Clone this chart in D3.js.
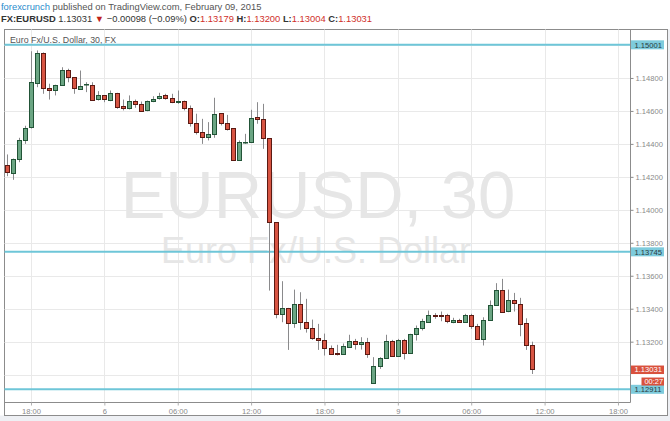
<!DOCTYPE html>
<html><head><meta charset="utf-8">
<script src="https://cdn.jsdelivr.net/npm/d3@7"></script>
<style>
html,body{margin:0;padding:0;background:#fff;}
svg{display:block;font-family:"Liberation Sans",Arial,sans-serif;}
</style></head>
<body>
<svg id="c" width="670" height="421"></svg>
<script>
// ---- data (EUR/USD, 30-minute candles) ----
const open = [
1.14269,1.14222,1.14309,1.14425,1.14498,1.14774,1.14953,1.14738,1.14728,1.14759,
1.14850,1.14805,1.14738,1.14760,1.14760,1.14668,1.14694,1.14668,1.14710,1.14627,
1.14619,1.14661,1.14643,1.14603,1.14659,1.14674,1.14694,1.14677,1.14655,1.14663,
1.14619,1.14528,1.14475,1.14445,1.14461,1.14586,1.14528,1.14495,1.14299,1.14410,
1.14413,1.14562,1.14552,1.14434,1.13925,1.13369,1.13405,1.13314,1.13430,1.13322,
1.13284,1.13225,1.13211,1.13163,1.13130,1.13122,1.13170,1.13207,1.13187,1.13201,
1.12950,1.13055,1.13102,1.13207,1.13116,1.13211,1.13130,1.13243,1.13282,1.13322,
1.13363,1.13359,1.13359,1.13322,1.13334,1.13322,1.13363,1.13298,1.13221,1.13334,
1.13425,1.13516,1.13383,1.13450,1.13430,1.13312,1.13179];
const high = [
1.14336,1.14311,1.14437,1.14510,1.14962,1.14967,1.14955,1.14765,1.14759,1.14865,
1.14856,1.14805,1.14845,1.14774,1.14774,1.14720,1.14694,1.14724,1.14710,1.14669,
1.14694,1.14669,1.14657,1.14663,1.14689,1.14710,1.14704,1.14704,1.14724,1.14663,
1.14633,1.14583,1.14552,1.14532,1.14680,1.14586,1.14576,1.14495,1.14421,1.14461,
1.14607,1.14653,1.14643,1.14434,1.13925,1.13567,1.13405,1.13516,1.13500,1.13460,
1.13334,1.13308,1.13249,1.13177,1.13181,1.13189,1.13242,1.13217,1.13227,1.13223,
1.13106,1.13106,1.13242,1.13211,1.13217,1.13217,1.13248,1.13298,1.13339,1.13389,
1.13373,1.13383,1.13369,1.13345,1.13339,1.13369,1.13369,1.13308,1.13348,1.13450,
1.13555,1.13581,1.13516,1.13496,1.13466,1.13342,1.13200];
const low = [
1.14204,1.14182,1.14289,1.14400,1.14493,1.14744,1.14704,1.14669,1.14694,1.14754,
1.14774,1.14704,1.14734,1.14714,1.14663,1.14663,1.14653,1.14659,1.14613,1.14603,
1.14609,1.14619,1.14598,1.14598,1.14653,1.14669,1.14668,1.14647,1.14643,1.14603,
1.14505,1.14457,1.14400,1.14421,1.14437,1.14512,1.14481,1.14299,1.14299,1.14400,
1.14410,1.14522,1.14370,1.13510,1.13342,1.13318,1.13150,1.13284,1.13272,1.13255,
1.13211,1.13150,1.13116,1.13126,1.13116,1.13122,1.13163,1.13152,1.13152,1.13102,
1.12950,1.13035,1.13096,1.13110,1.13110,1.13092,1.13126,1.13207,1.13268,1.13318,
1.13339,1.13324,1.13312,1.13312,1.13318,1.13318,1.13278,1.13211,1.13177,1.13328,
1.13419,1.13379,1.13379,1.13383,1.13233,1.13150,1.13004];
const close = [
1.14228,1.14309,1.14425,1.14498,1.14774,1.14953,1.14738,1.14728,1.14759,1.14850,
1.14805,1.14738,1.14754,1.14762,1.14668,1.14694,1.14668,1.14710,1.14627,1.14615,
1.14663,1.14643,1.14603,1.14659,1.14674,1.14689,1.14677,1.14655,1.14663,1.14619,
1.14525,1.14471,1.14445,1.14461,1.14583,1.14525,1.14492,1.14299,1.14410,1.14413,
1.14558,1.14552,1.14434,1.13925,1.13369,1.13405,1.13314,1.13430,1.13318,1.13284,
1.13225,1.13211,1.13164,1.13126,1.13122,1.13172,1.13207,1.13187,1.13201,1.13126,
1.13055,1.13102,1.13207,1.13116,1.13211,1.13130,1.13248,1.13282,1.13324,1.13363,
1.13354,1.13354,1.13322,1.13334,1.13322,1.13363,1.13298,1.13221,1.13334,1.13425,
1.13516,1.13383,1.13450,1.13430,1.13308,1.13177,1.13031];

const xTickSlots  = [4, 16, 28, 40, 52, 64, 76, 88, 100];
const xTickLabels = ["18:00","6","06:00","12:00","18:00","9","06:00","12:00","18:00"];
const yGridValues = [1.130,1.132,1.134,1.136,1.138,1.140,1.142,1.144,1.146,1.148,1.150];
const yTickValues = [1.132,1.134,1.136,1.138,1.140,1.142,1.144,1.146,1.148];
const hLevels     = [1.15001, 1.13745, 1.12911];
const lastPrice   = 1.13031;
const countdown   = "00:27";

// ---- layout ----
const svg = d3.select("#c");
const L = 4.5, R = 630.5, T = 29.5, B = 402.5, FR = 667.5, FB = 415.5;
const x = d3.scaleLinear().domain([-0.33, 102.05]).range([L, R]);
const y = d3.scaleLinear().domain([1.12831, 1.15094]).range([B, T]);
const fmt = d3.format(".5f");

// outer margins
svg.append("rect").attr("x",0).attr("y",FB).attr("width",670).attr("height",421-FB).attr("fill","#eef0f4");
svg.append("rect").attr("x",FR).attr("y",T).attr("width",670-FR).attr("height",421-T).attr("fill","#eef0f4");
svg.append("rect").attr("x",L).attr("y",T).attr("width",FR-L).attr("height",FB-T)
  .attr("fill","#fff").attr("stroke","#8c8c8c").attr("stroke-width",1);

// header
const h1 = svg.append("text").attr("x",1).attr("y",10).attr("font-size",9.4).attr("fill","#555");
h1.append("tspan").attr("fill","#2a8ccc").text("forexcrunch");
h1.append("tspan").text(" published on TradingView.com, February 09, 2015");
const h2 = svg.append("text").attr("x",1).attr("y",21.5).attr("font-size",9.4).attr("fill","#333");
h2.append("tspan").attr("font-weight","bold").text("FX:EURUSD");
h2.append("tspan").text(" " + fmt(lastPrice) + " ");
h2.append("tspan").attr("fill","#c0221a").text("▼");
h2.append("tspan").text(" −0.00098 (−0.09%) ");
[["O:",open[open.length-1]],["H:",high[high.length-1]],["L:",low[low.length-1]],["C:",close[close.length-1]]]
 .forEach(([k,v],i)=>{
  h2.append("tspan").attr("font-weight","bold").text((i?" ":"")+k);
  h2.append("tspan").attr("fill","#d0302a").text(fmt(v));
 });

const plot = svg.append("g");
// grid
plot.selectAll(".gx").data(xTickSlots).join("line")
  .attr("x1",d=>Math.round(x(d))+0.5).attr("x2",d=>Math.round(x(d))+0.5)
  .attr("y1",T).attr("y2",B).attr("stroke","#e9e9e9");
plot.selectAll(".gy").data(yGridValues).join("line")
  .attr("x1",L).attr("x2",R).attr("y1",d=>Math.round(y(d))+0.5).attr("y2",d=>Math.round(y(d))+0.5)
  .attr("stroke","#e9e9e9");

// watermark
svg.append("text").attr("x",318).attr("y",218).attr("text-anchor","middle")
  .attr("font-size",67).attr("fill","#e6e6e6").text("EURUSD, 30");
svg.append("text").attr("x",316).attr("y",263).attr("text-anchor","middle")
  .attr("font-size",36).attr("fill","#e6e6e6").text("Euro Fx/U.S. Dollar");

// chart title
svg.append("text").attr("x",10).attr("y",43).attr("font-size",8.8).attr("fill","#555")
  .text("Euro Fx/U.S. Dollar, 30, FX");

// horizontal levels
svg.selectAll(".lvl").data(hLevels).join("line")
  .attr("x1",L).attr("x2",R).attr("y1",d=>y(d)).attr("y2",d=>y(d))
  .attr("stroke","#6ec6d8").attr("stroke-width",2);

// candles
const idx = d3.range(open.length);
const cg = svg.append("g");
cg.selectAll(".wick").data(idx).join("line")
  .attr("x1",i=>Math.round(x(i))+0.5).attr("x2",i=>Math.round(x(i))+0.5)
  .attr("y1",i=>y(high[i])).attr("y2",i=>y(low[i]))
  .attr("stroke","#8a8a8c").attr("stroke-width",1);
cg.selectAll(".body").data(idx).join("rect")
  .attr("x",i=>Math.round(x(i))-1.5)
  .attr("y",i=>Math.round(y(Math.max(open[i],close[i])))+0.5)
  .attr("width",4)
  .attr("height",i=>Math.max(0.5, Math.round(Math.abs(y(open[i])-y(close[i])))))
  .attr("fill",i=>close[i]>=open[i]?"#6ba583":"#d75442")
  .attr("stroke",i=>close[i]>=open[i]?"#225437":"#5b1a13")
  .attr("stroke-width",1);

// axes lines
svg.append("line").attr("x1",R).attr("x2",R).attr("y1",T).attr("y2",B).attr("stroke","#8c8c8c");
svg.append("line").attr("x1",L).attr("x2",R).attr("y1",B).attr("y2",B).attr("stroke","#8c8c8c");

// y axis
const yAx = svg.append("g").attr("transform",`translate(${R},0)`)
  .call(d3.axisRight(y).tickValues(yTickValues).tickFormat(fmt).tickSize(3).tickPadding(2));
yAx.select(".domain").remove();
yAx.selectAll("text").attr("font-size",7.6).attr("fill","#8a8a8a").attr("font-family","Liberation Sans, Arial");
yAx.selectAll("line").attr("stroke","#8c8c8c");

// x axis
const xAx = svg.append("g").attr("transform",`translate(0,${B})`)
  .call(d3.axisBottom(x).tickValues(xTickSlots).tickFormat((d,i)=>xTickLabels[i]).tickSize(3).tickPadding(3));
xAx.select(".domain").remove();
xAx.selectAll("text").attr("font-size",7.6).attr("fill","#8a8a8a").attr("font-family","Liberation Sans, Arial");
xAx.selectAll("line").attr("stroke","#b0b0b0");

// level labels
const lab = svg.selectAll(".lab").data(hLevels).join("g")
  .attr("transform",d=>`translate(${R},${y(d)})`);
lab.append("rect").attr("x",0.5).attr("y",-4.5).attr("width",33).attr("height",9).attr("fill","#7ecbdc");
lab.append("text").attr("x",4).attr("y",2.8).attr("font-size",7.6).attr("fill","#2a3a40").text(d=>fmt(d));

// last price label
const lp = svg.append("g").attr("transform",`translate(${R},${y(lastPrice)})`);
lp.append("rect").attr("x",0.5).attr("y",-4).attr("width",33).attr("height",8.5).attr("fill","#d9513d");
lp.append("text").attr("x",4).attr("y",2.8).attr("font-size",7.6).attr("fill","#fff").text(fmt(lastPrice));
lp.append("rect").attr("x",11).attr("y",8).attr("width",22.5).attr("height",8).attr("fill","#d9513d");
lp.append("text").attr("x",14).attr("y",14.5).attr("font-size",7.4).attr("fill","#fff").text(countdown);
</script>
</body></html>
